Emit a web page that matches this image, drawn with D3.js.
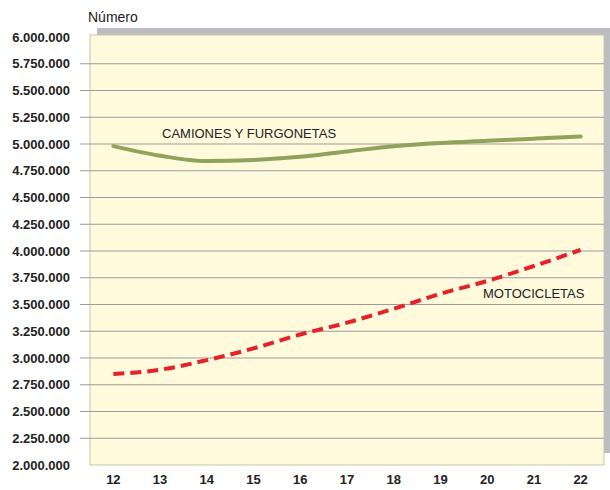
<!DOCTYPE html>
<html>
<head>
<meta charset="utf-8">
<script src="https://cdn.jsdelivr.net/npm/d3@7"></script>
<style>
  body { margin: 0; background: #fff; }
  text { font-family: "Liberation Sans", Arial, sans-serif; }
</style>
</head>
<body>
<div id="container"></div>
<script>
// data
const years = ["12", "13", "14", "15", "16", "17", "18", "19", "20", "21", "22"];
const camiones = [4980000, 4890000, 4840000, 4850000, 4880000, 4930000, 4980000, 5010000, 5030000, 5050000, 5070000];
const motos = [2850000, 2890000, 2980000, 3090000, 3220000, 3330000, 3460000, 3600000, 3720000, 3860000, 4010000];
const yTicks = d3.range(2000000, 6000001, 250000);

const w = 610, h = 490;
const m = { top: 37, right: 6, bottom: 25, left: 90 };
const plotRight = w - m.right;

const svg = d3.select("#container").append("svg")
  .attr("width", w)
  .attr("height", h);

const x = d3.scalePoint()
  .domain(years)
  .range([m.left, plotRight])
  .padding(0.5);

const y = d3.scaleLinear()
  .domain([2000000, 6000000])
  .range([h - m.bottom, m.top]);

const fmt = d => d3.format(",")(d).replace(/,/g, ".");

// shadow behind the plot box
svg.append("rect")
  .attr("x", m.left + 7)
  .attr("y", m.top - 9)
  .attr("width", plotRight - m.left)
  .attr("height", h - m.top - m.bottom - 3)
  .attr("fill", "#bcbdc0");

// plot box
svg.append("rect")
  .attr("x", m.left)
  .attr("y", m.top - 2)
  .attr("width", plotRight - m.left)
  .attr("height", h - m.top - m.bottom + 2)
  .attr("fill", "#fffadc")
  .attr("stroke", "#c9c6a8")
  .attr("stroke-width", 1);

// grid + y labels
const yAxis = svg.append("g").attr("class", "y-axis");
yAxis.selectAll("line")
  .data(yTicks.filter(d => d > 2000000 && d < 6000000))
  .enter().append("line")
  .attr("x1", 80)
  .attr("x2", plotRight)
  .attr("y1", d => y(d))
  .attr("y2", d => y(d))
  .attr("stroke", "#9b9b9b")
  .attr("stroke-width", 1);

yAxis.selectAll("text")
  .data(yTicks)
  .enter().append("text")
  .attr("x", 70)
  .attr("y", d => y(d) + 4.5)
  .attr("text-anchor", "end")
  .attr("font-size", 13)
  .attr("font-weight", "bold")
  .attr("fill", "#222")
  .text(fmt);

// x labels
svg.append("g").selectAll("text")
  .data(years)
  .enter().append("text")
  .attr("x", d => x(d))
  .attr("y", h - 6)
  .attr("text-anchor", "middle")
  .attr("font-size", 13)
  .attr("font-weight", "bold")
  .attr("fill", "#222")
  .text(d => d);

// axis title
svg.append("text")
  .attr("x", 88)
  .attr("y", 22)
  .attr("font-size", 14)
  .attr("fill", "#222")
  .text("Número");

// lines
const line = d3.line()
  .x((d, i) => x(years[i]))
  .y(d => y(d))
  .curve(d3.curveMonotoneX);

svg.append("path")
  .attr("d", line(camiones))
  .attr("fill", "none")
  .attr("stroke", "#8fa35a")
  .attr("stroke-width", 4)
  .attr("stroke-linecap", "round");

svg.append("path")
  .attr("d", line(motos))
  .attr("fill", "none")
  .attr("stroke", "#e5222b")
  .attr("stroke-width", 4)
  .attr("stroke-dasharray", "11,6");

// series labels
svg.append("text")
  .attr("x", 162)
  .attr("y", 138)
  .attr("font-size", 13)
  .attr("fill", "#222")
  .text("CAMIONES Y FURGONETAS");

svg.append("text")
  .attr("x", 483)
  .attr("y", 298)
  .attr("font-size", 13)
  .attr("fill", "#222")
  .text("MOTOCICLETAS");
</script>
</body>
</html>
